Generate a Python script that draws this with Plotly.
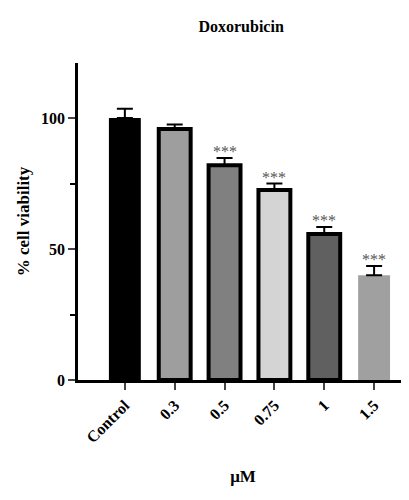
import plotly.graph_objects as go

categories = ["Control", "0.3", "0.5", "0.75", "1", "1.5"]
values = [100, 95.8, 82, 72.5, 55.7, 40]
errors = [3.5, 1.7, 2.7, 2.5, 2.7, 3.5]
fills = ["#000000", "#9e9e9e", "#808080", "#d4d4d4", "#606060", "#a0a0a0"]
outline = [0, 4, 4, 4, 4, 0]
stars = ["", "", "***", "***", "***", "***"]

font = dict(family="Liberation Serif", color="black")
fig = go.Figure(go.Bar(
    x=categories, y=values, width=0.64,
    marker=dict(color=fills, line=dict(color="black", width=outline)),
    error_y=dict(type="data", array=errors, arrayminus=[0]*6, color="black", thickness=2, width=8),
))
for i, (v, e, s) in enumerate(zip(values, errors, stars)):
    if s:
        fig.add_annotation(x=i, y=v + e, text=s, showarrow=False, yanchor="bottom", yshift=-4,
                           font=dict(family="Liberation Serif", size=16, color="#555"))
fig.update_layout(
    width=409, height=500, plot_bgcolor="white", paper_bgcolor="white",
    margin=dict(l=70, r=9, t=55, b=128), showlegend=False,
    title=dict(text="<b>Doxorubicin</b>", x=0.57, xanchor="center", y=0.975, yanchor="top",
               font=dict(size=16, **font)),
    font=dict(size=15, **font),
    xaxis=dict(type="category", range=[-0.94, 5.68], showline=True, linecolor="black", linewidth=2.5,
               ticks="outside", ticklen=7, tickwidth=2, tickangle=-45,
               tickfont=dict(size=16, family="Liberation Serif", color="black", weight="bold"),
               title=dict(text="<b>μM</b>", font=dict(size=17, **font), standoff=25)),
    yaxis=dict(range=[0, 121], showline=True, linecolor="black", linewidth=2.5,
               ticks="outside", ticklen=7, tickwidth=2, tickvals=[0, 50, 100], showgrid=False,
               zeroline=False,
               minor=dict(tickvals=[25, 75], ticks="outside", ticklen=5, tickwidth=2, tickcolor="black"),
               tickfont=dict(size=16, family="Liberation Serif", color="black", weight="bold"),
               title=dict(text="<b>% cell viability</b>", font=dict(size=17, **font), standoff=8)),
)
fig.write_html("out.html")
